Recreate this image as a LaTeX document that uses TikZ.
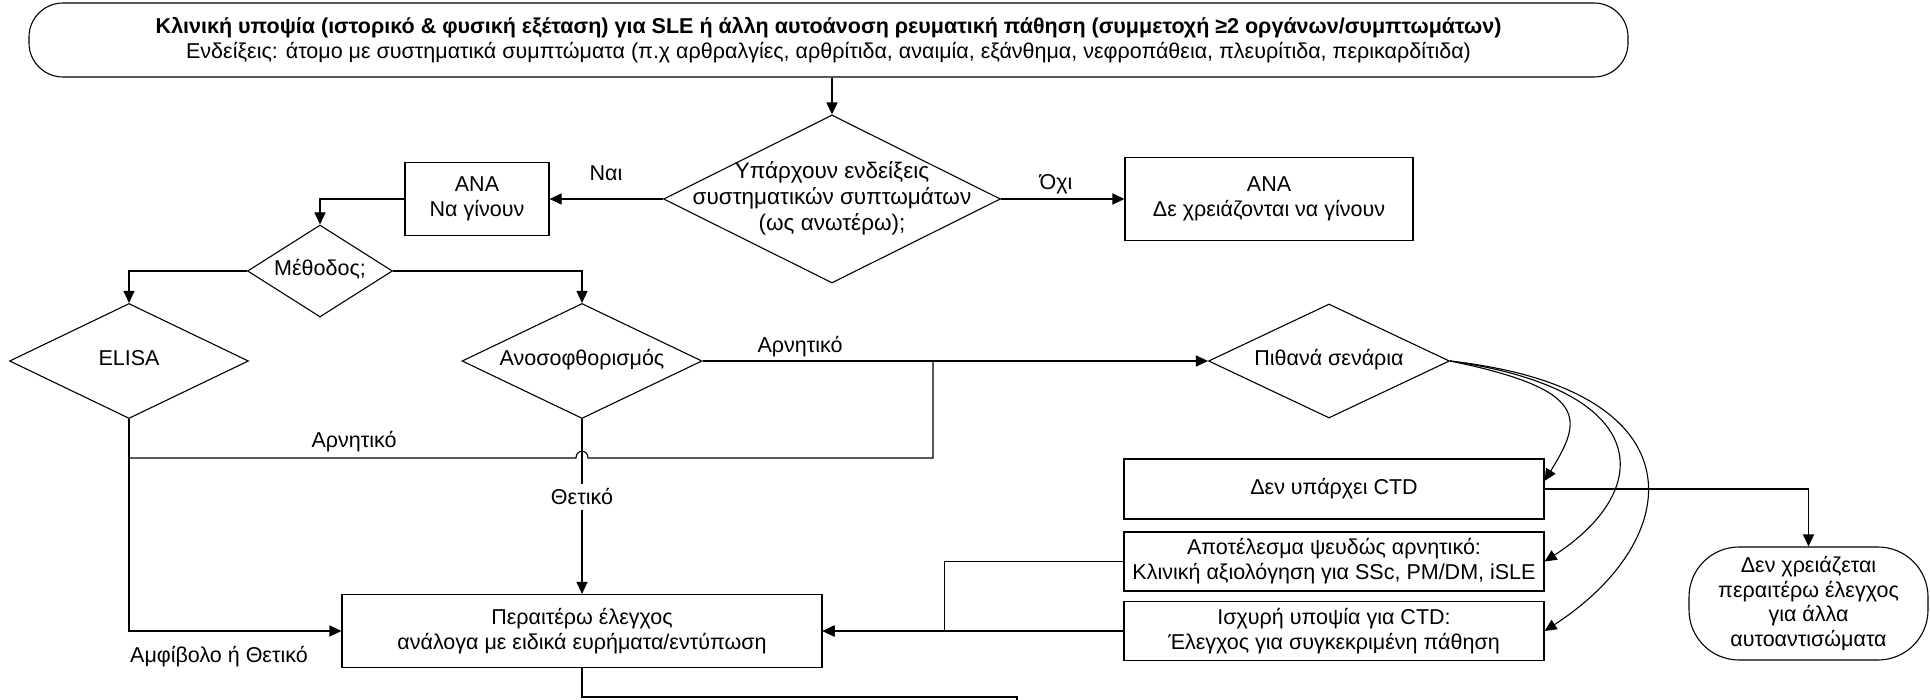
\documentclass[tikz,border=0pt]{standalone}
\usepackage{fontspec}
\setmainfont{Liberation Sans}
\usetikzlibrary{arrows.meta,shapes.geometric}
\newcommand\dtxt[1]{\makebox[0pt]{\begin{tabular}{@{}c@{}}#1\end{tabular}}}
\begin{document}
\begin{tikzpicture}[x=0.5pt,y=-0.5pt,
  every node/.style={font=\fontsize{10.75pt}{12.4pt}\selectfont, text=black},
  box/.style={draw, rectangle, inner sep=0pt, align=center, line width=0.55pt},
  dia/.style={draw, diamond, inner sep=0pt, line width=0.55pt},
  bigtext/.style={font=\fontsize{11.25pt}{13pt}\selectfont},
  ln/.style={line width=0.55pt},
  arr/.style={ln, -{Triangle[length=6pt,width=5.5pt]}},
  lbl/.style={inner sep=1pt}]
\fill[white] (0,0) rectangle (1930,700);
\useasboundingbox (0,0) rectangle (1930,700);

% nodes
\node[box, rounded corners=17pt, minimum width=799.5pt, minimum height=37pt] (top) at (828.5,40)
  {\textbf{Κλινική υποψία (ιστορικό \& φυσική εξέταση) για SLE ή άλλη αυτοάνοση ρευματική πάθηση (συμμετοχή ≥2 οργάνων/συμπτωμάτων)}\\
   Ενδείξεις: άτομο με συστηματικά συμπτώματα (π.χ αρθραλγίες, αρθρίτιδα, αναιμία, εξάνθημα, νεφροπάθεια, πλευρίτιδα, περικαρδίτιδα)};
\node[dia, bigtext, minimum width=168.5pt, minimum height=84pt] (d1) at (832,199)
  {\dtxt{Υπάρχουν ενδείξεις\\συστηματικών συπτωμάτων\\(ως ανωτέρω);}};
\node[box, minimum width=72pt, minimum height=36.5pt] (ana1) at (477,199) {ANA\\Να γίνουν};
\node[box, minimum width=144pt, minimum height=41.5pt] (ana2) at (1269,199) {ANA\\Δε χρειάζονται να γίνουν};
\node[dia, minimum width=72.5pt, minimum height=46pt] (meth) at (320,271) {\dtxt{Μέθοδος;}};
\node[dia, minimum width=119.5pt, minimum height=57.5pt] (elisa) at (129,361) {\dtxt{ELISA}};
\node[dia, minimum width=120pt, minimum height=57.5pt] (anoso) at (582,361) {\dtxt{Ανοσοφθορισμός}};
\node[dia, minimum width=120.5pt, minimum height=57pt] (pith) at (1329,361) {\dtxt{Πιθανά σενάρια}};
\node[box, minimum width=210pt, minimum height=30pt] (noctd) at (1334,489) {Δεν υπάρχει CTD};
\node[box, minimum width=210pt, minimum height=29.5pt] (apot) at (1334,561.5)
  {Αποτέλεσμα ψευδώς αρνητικό:\\Κλινική αξιολόγηση για SSc, PM/DM, iSLE};
\node[box, minimum width=210pt, minimum height=29.5pt] (isx) at (1334,631)
  {Ισχυρή υποψία για CTD:\\Έλεγχος για συγκεκριμένη πάθηση};
\node[box, rounded corners=25pt, minimum width=119.5pt, minimum height=56.5pt] (nores) at (1808.5,603.5)
  {Δεν χρειάζεται\\περαιτέρω έλεγχος\\για άλλα\\αυτοαντισώματα};
\node[box, minimum width=240pt, minimum height=36.5pt] (per) at (582,631)
  {Περαιτέρω έλεγχος\\ανάλογα με ειδικά ευρήματα/εντύπωση};

% labels
\node[lbl] (lnai) at (606,173) {Ναι};
\node[lbl] (loxi) at (1056,184) {Όχι};
\node[lbl] (lneg1) at (800,347) {Αρνητικό};
\node[lbl] (lneg2) at (354,442) {Αρνητικό};
\node[inner sep=2pt] (lthe) at (582,497) {Θετικό};
\node[lbl] (lamf) at (219,657) {Αμφίβολο ή Θετικό};

% coordinates
\coordinate (j2) at (933,458);
\coordinate (pend) at (1017,697);

% connectors
\draw[arr] (d1.north |- top.south) -- (d1.north);
\draw[arr] (d1.west) -- (ana1.east);
\draw[arr] (d1.east) -- (ana2.west);
\draw[arr] (ana1.west) -| (meth.north);
\draw[arr] (meth.west) -| (elisa.north);
\draw[arr] (meth.east) -| (anoso.north);
\draw[arr] (anoso.east) -- (pith.west);
\draw[ln] (elisa.south |- j2) -- (576,458) .. controls (576,449) and (588,449) .. (588,458) -- (j2) -- (j2 |- pith.west);
\draw[arr] (elisa.south) |- (per.west);
\draw[ln] (anoso.south) -- (lthe.north);
\draw[arr] (lthe.south) -- (per.north);
\draw[arr] (pith.east) .. controls (1592,390) and (1582,420) .. ([yshift=4pt]noctd.east);
\draw[arr] (pith.east) .. controls (1655,390) and (1655,490) .. (apot.east);
\draw[arr] (pith.east) .. controls (1705,390) and (1685,540) .. (isx.east);
\draw[arr] (noctd.east) -| (nores.north);
\draw[arr] (apot.west) -- ++(-179,0) |- (per.east);
\draw[arr] (isx.west) -- (per.east);
\draw[ln] (per.south) |- (pend) -- ++(0,5);
\end{tikzpicture}
\end{document}
